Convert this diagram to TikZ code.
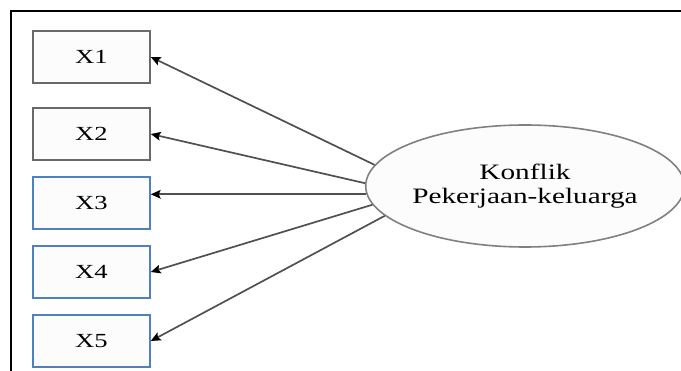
\documentclass[tikz,border=0pt]{standalone}
\usepackage{fontspec}
\usepackage{graphicx}
\setmainfont{Liberation Serif}
\usetikzlibrary{shapes.geometric,arrows.meta}
\definecolor{boxgray}{RGB}{105,105,105}
\definecolor{boxblue}{RGB}{79,129,189}
\definecolor{linkgray}{RGB}{80,80,80}
\definecolor{paperfill}{RGB}{252,252,252}
\definecolor{ovalfill}{RGB}{252,252,252}
\newcommand{\widetext}[1]{\scalebox{1.33}[1]{#1}}
\begin{document}
\begin{tikzpicture}[x=1pt,y=-1pt,
  indicator/.style={draw, line width=1.6pt, fill=paperfill, minimum width=117pt,
    minimum height=52pt, inner sep=0pt, font=\fontsize{20}{24}\selectfont},
  graybox/.style={indicator, draw=boxgray},
  bluebox/.style={indicator, draw=boxblue},
  latent/.style={ellipse, draw=gray, line width=1.6pt, fill=ovalfill,
    minimum width=307pt, minimum height=122pt, inner sep=0pt, align=center,
    font=\fontsize{22}{24}\selectfont},
  link/.style={draw=linkgray, line width=1.7pt,
    -{Stealth[length=10pt,width=9pt,inset=2pt,line width=0pt,black]}}
]
\useasboundingbox (0,0) rectangle (681,371);

% frame lines
\draw[line width=1.8pt] (11,371) -- (11,11) -- (681,11);

% indicator boxes
\node[graybox] (x1) at (91.5,57)  {\widetext{X1}};
\node[graybox] (x2) at (91.5,134) {\widetext{X2}};
\node[bluebox] (x3) at (91.5,203) {\widetext{X3}};
\node[bluebox] (x4) at (91.5,272) {\widetext{X4}};
\node[bluebox] (x5) at (91.5,341) {\widetext{X5}};

% latent construct
\node[latent] (k) at (525,186) {\widetext{Konflik}\\\widetext{Pekerjaan-keluarga}};

% loadings
\draw[link] (k.172.5) -- (x1.east);
\draw[link] (k.179.6) -- (x2.east);
\draw[link] (k.183.4) -- (k.183.4 -| x3.east);
\draw[link] (k.187.2) -- (x4.east);
\draw[link] (k.192.1) -- (x5.east);
\end{tikzpicture}
\end{document}
